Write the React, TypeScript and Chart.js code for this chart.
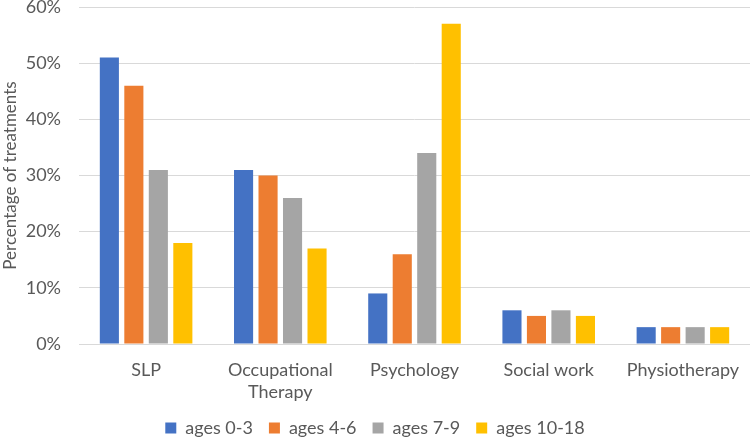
import React, { useEffect, useRef } from "react";
import { Chart, registerables } from "chart.js";

Chart.register(...registerables);

const categories: (string | string[])[] = ["SLP", ["Occupational", "Therapy"], "Psychology", "Social work", "Physiotherapy"];
const ages0to3 = [51, 31, 9, 6, 3];
const ages4to6 = [46, 30, 16, 5, 3];
const ages7to9 = [31, 26, 34, 6, 3];
const ages10to18 = [18, 17, 57, 5, 3];
const seriesNames = ["ages 0-3", "ages 4-6", "ages 7-9", "ages 10-18"];
const seriesColors = ["#4472C4", "#ED7D31", "#A5A5A5", "#FFC000"];
const yTicks = [0, 10, 20, 30, 40, 50, 60];

const FONT = "Lato, 'Open Sans', sans-serif";

export default function App() {
  const ref = useRef<HTMLCanvasElement | null>(null);
  useEffect(() => {
    document.body.style.margin = "0";
    const ctx = ref.current!;
    const values = [ages0to3, ages4to6, ages7to9, ages10to18];
    const chart = new Chart(ctx, {
      type: "bar",
      data: {
        labels: categories as any,
        datasets: values.map((d, i) => ({
          label: seriesNames[i],
          data: d,
          backgroundColor: seriesColors[i],
          borderWidth: 0,
          categoryPercentage: 0.73,
          barPercentage: 0.78,
        })),
      },
      options: {
        animation: false,
        responsive: false,
        maintainAspectRatio: false,
        layout: { padding: { left: 0, right: 0, top: 7, bottom: -10 } },
        plugins: {
          legend: {
            position: "bottom",
            labels: {
              boxWidth: 11,
              boxHeight: 11,
              color: "#595959",
              font: { family: FONT, size: 18 },
              padding: 16,
            },
          },
          tooltip: { enabled: false },
        },
        scales: {
          x: {
            grid: { display: false, drawTicks: false },
            border: { display: true, color: "#D9D9D9" },
            ticks: {
              color: "#595959",
              font: { family: FONT, size: 18, lineHeight: 1.22 },
              padding: 15,
              maxRotation: 0,
              autoSkip: false,
            },
            afterFit: (axis: any) => {
              axis.paddingLeft = 0;
              axis.paddingRight = 0;
              axis.height = 59;
            },
          },
          y: {
            min: 0,
            max: 60,
            afterBuildTicks: (axis: any) => {
              axis.ticks = yTicks.map((v) => ({ value: v }));
            },
            afterFit: (axis: any) => {
              axis.paddingTop = 0;
              axis.paddingBottom = 0;
              axis.width = 79;
            },
            grid: { color: "#D9D9D9", drawTicks: false, lineWidth: 1 },
            border: { display: false },
            ticks: {
              color: "#595959",
              font: { family: FONT, size: 18 },
              padding: 18,
              callback: (v: any) => v + "%",
            },
            title: {
              display: true,
              text: "Percentage of treatments",
              color: "#595959",
              font: { family: FONT, size: 17 },
              padding: { top: 0, bottom: 2 },
            },
          },
        },
      },
    });
    return () => chart.destroy();
  }, []);
  return (
    <div style={{ width: 750, height: 437 }}>
      <canvas ref={ref} width={750} height={437} style={{ display: "block" }} />
    </div>
  );
}
